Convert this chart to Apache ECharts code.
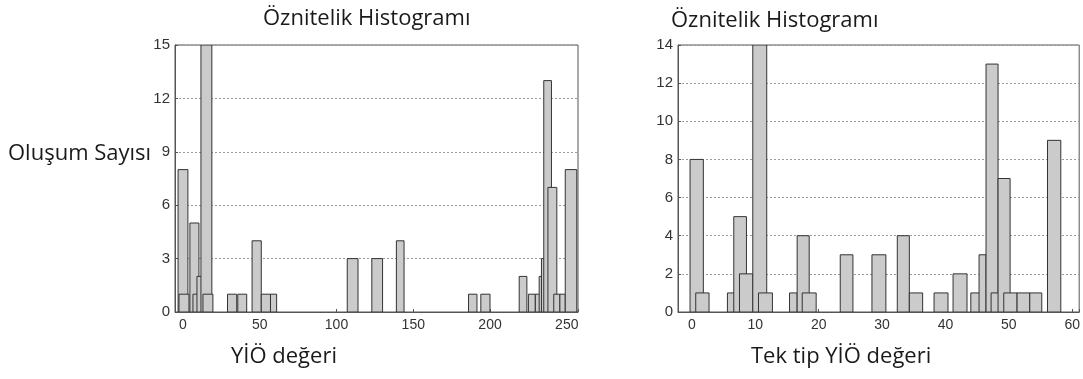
<!DOCTYPE html>
<html>
<head>
<meta charset="utf-8">
<script src="https://cdn.jsdelivr.net/npm/echarts@6/dist/echarts.min.js"></script>
<style>html,body{margin:0;padding:0;background:#fff}#c{width:1083px;height:379px}</style>
</head>
<body>
<div id="c"></div>
<script>
// Left histogram: bin start, bin end, count
const leftStart  = [-3.2, -2.6, 4.5, 6.5, 9.1, 11.7, 13.0, 29, 35.7, 45, 51, 57, 107, 123, 139, 186, 194, 219, 225, 229.5, 232, 233.5, 235, 237.7, 241.5, 245.5, 249];
const leftEnd    = [3.2, 3.9, 10.4, 10.4, 12.3, 18.8, 19.5, 35, 41.5, 51, 57, 61, 114, 130, 144, 191.5, 200, 224, 229.5, 234, 234, 235.5, 240, 243.5, 245.5, 249, 256.5];
const leftCounts = [8, 1, 5, 1, 2, 15, 1, 1, 1, 4, 1, 1, 3, 3, 4, 1, 1, 2, 1, 1, 2, 3, 13, 7, 1, 1, 8];

// Right histogram: bin start, bin end, count
const rightStart  = [-0.3, 0.6, 5.6, 6.6, 7.5, 9.6, 10.5, 15.4, 16.6, 17.4, 23.4, 28.4, 32.4, 34.3, 38.2, 41.2, 44.0, 45.3, 46.4, 47.2, 48.3, 49.2, 51.3, 53.3, 56.1];
const rightEnd    = [1.8, 2.7, 6.7, 8.6, 9.6, 11.8, 12.7, 16.6, 18.5, 19.6, 25.4, 30.6, 34.3, 36.4, 40.4, 43.4, 45.5, 46.4, 48.3, 49.2, 50.2, 51.3, 53.3, 55.2, 58.2];
const rightCounts = [8, 1, 1, 5, 2, 14, 1, 1, 4, 1, 3, 3, 4, 1, 1, 2, 1, 3, 13, 1, 7, 1, 1, 1, 9];

const leftTicks = [0, 50, 100, 150, 200, 250];
const rightTicks = [0, 10, 20, 30, 40, 50, 60];

const titleText = 'Öznitelik Histogramı';
const yName = 'Oluşum Sayısı';
const leftXName = 'YİÖ değeri';
const rightXName = 'Tek tip YİÖ değeri';

function zip(a, b, c) { return a.map((v, i) => [v, b[i], c[i]]); }

function renderItem(params, api) {
  const p0 = api.coord([api.value(0), 0]);
  const p1 = api.coord([api.value(1), api.value(2)]);
  return {
    type: 'rect',
    shape: { x: p0[0], y: p1[1], width: p1[0] - p0[0], height: p0[1] - p1[1] },
    style: { fill: '#cbcbcb', stroke: '#333333', lineWidth: 1 }
  };
}

const font = 'Open Sans';
const labelColor = '#333';
const textColor = '#1a1a1a';

function xAxisCfg(idx, min, max, split, ticks) {
  return {
    type: 'value', gridIndex: idx, min: min, max: max, splitNumber: split,
    axisLine: { show: true, onZero: false, lineStyle: { color: '#555' } },
    axisTick: { show: true, inside: true, length: 3, lineStyle: { color: '#555' } },
    splitLine: { show: false },
    axisLabel: {
      color: labelColor, fontSize: 14, fontFamily: 'Liberation Sans', margin: 6,
      showMinLabel: false, showMaxLabel: true,
      formatter: v => ticks.indexOf(v) >= 0 ? String(v) : ''
    }
  };
}
function yAxisCfg(idx, max, interval) {
  return {
    type: 'value', gridIndex: idx, min: 0, max: max, interval: interval,
    axisLine: { show: true, onZero: false, lineStyle: { color: '#555' } },
    axisTick: { show: true, inside: true, length: 3, lineStyle: { color: '#555' } },
    splitLine: { show: true, lineStyle: { color: '#9a9a9a', type: [2, 2], width: 1 } },
    axisLabel: { color: labelColor, fontSize: 15, fontFamily: 'Liberation Sans', margin: 5 }
  };
}

const chart = echarts.init(document.getElementById('c'), null, { renderer: 'canvas' });
chart.setOption({
  animation: false,
  backgroundColor: '#fff',
  title: [
    { text: titleText, left: 258, top: 3, textStyle: { fontFamily: font, fontSize: 22, fontWeight: 'normal', color: textColor } },
    { text: titleText, left: 666, top: 5, textStyle: { fontFamily: font, fontSize: 22, fontWeight: 'normal', color: textColor } }
  ],
  grid: [
    { left: 175, right: 505, top: 45, bottom: 67, show: true, borderColor: '#555', borderWidth: 1, backgroundColor: 'transparent' },
    { left: 678, right: 1, top: 45, bottom: 67, show: true, borderColor: '#555', borderWidth: 1, backgroundColor: 'transparent' }
  ],
  xAxis: [
    xAxisCfg(0, -5.2, 257.3, 5, leftTicks),
    xAxisCfg(1, -2.2, 61.1, 6, rightTicks)
  ],
  yAxis: [
    yAxisCfg(0, 15, 3),
    yAxisCfg(1, 14, 2)
  ],
  graphic: [
    { type: 'text', left: 8, top: 143, style: { text: yName, font: '22px "Open Sans"', fill: textColor } },
    { type: 'text', left: 231, top: 346, style: { text: leftXName, font: '22px "Open Sans"', fill: textColor } },
    { type: 'text', left: 751, top: 346, style: { text: rightXName, font: '22px "Open Sans"', fill: textColor } }
  ],
  series: [
    { type: 'custom', xAxisIndex: 0, yAxisIndex: 0, renderItem: renderItem, encode: { x: [0, 1], y: 2 }, data: zip(leftStart, leftEnd, leftCounts), clip: true },
    { type: 'custom', xAxisIndex: 1, yAxisIndex: 1, renderItem: renderItem, encode: { x: [0, 1], y: 2 }, data: zip(rightStart, rightEnd, rightCounts), clip: true }
  ]
});
</script>
</body>
</html>
